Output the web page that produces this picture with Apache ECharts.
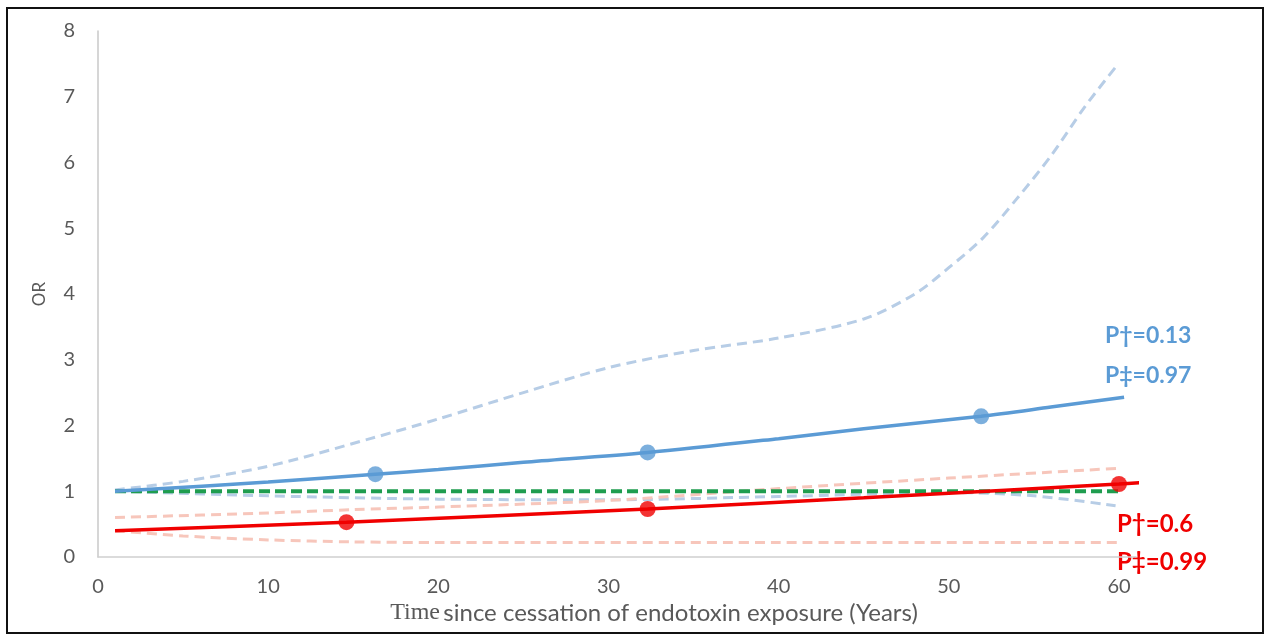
<!DOCTYPE html>
<html>
<head>
<meta charset="utf-8">
<script src="https://cdn.jsdelivr.net/npm/echarts@6/dist/echarts.min.js"></script>
<style>
html,body{margin:0;padding:0;background:#fff;}
#c{width:1266px;height:634px;}
</style>
</head>
<body>
<div id="c"></div>
<script>
// ---- data ----
var xTicks = [0, 10, 20, 30, 40, 50, 60];
var yTicks = [0, 1, 2, 3, 4, 5, 6, 7, 8];

var blueFitX = [1, 10, 16.3, 20, 25, 32.3, 40, 45, 51.9, 56, 60.3];
var blueFitY = [1.0, 1.14, 1.26, 1.33, 1.44, 1.59, 1.80, 1.95, 2.14, 2.28, 2.43];
var blueUpperX = [1, 5, 10, 16, 20, 25, 30, 35, 40, 45, 48, 50, 52, 54, 56, 58, 59.8];
var blueUpperY = [1.02, 1.15, 1.38, 1.8, 2.1, 2.5, 2.88, 3.14, 3.33, 3.62, 4.0, 4.4, 4.85, 5.45, 6.1, 6.85, 7.45];
var blueLowerX = [1, 10, 20, 30, 40, 50, 55, 59.8];
var blueLowerY = [1.0, 0.93, 0.88, 0.87, 0.92, 0.98, 0.93, 0.78];
var blueDotX = [16.3, 32.3, 51.9];
var blueDotY = [1.26, 1.59, 2.14];

var redFitX = [1, 14.6, 32.3, 45, 60, 61.2];
var redFitY = [0.40, 0.53, 0.73, 0.90, 1.11, 1.13];
var redUpperX = [1, 10, 15, 20, 30, 40, 50, 60];
var redUpperY = [0.60, 0.67, 0.72, 0.76, 0.86, 1.04, 1.20, 1.35];
var redLowerX = [1, 5, 10, 15, 20, 40, 60];
var redLowerY = [0.40, 0.32, 0.26, 0.23, 0.22, 0.22, 0.22];
var redDotX = [14.6, 32.3, 60];
var redDotY = [0.53, 0.73, 1.11];

var refX = [1, 60];
var refY = [1, 1];

var blueNotes = ["P\u2020=0.13", "P\u2021=0.97"];
var redNotes = ["P\u2020=0.6", "P\u2021=0.99"];

function pairs(xs, ys) { return xs.map(function (x, i) { return [x, ys[i]]; }); }

var BLUE = '#5b9bd5', BLUE_L = '#b7cde6', RED = '#f00000', RED_L = '#f7c6bb', GREEN = '#1f9d4f';
var GRAY = '#595959';

var chart = echarts.init(document.getElementById('c'));
chart.setOption({
  backgroundColor: '#fff',
  animation: false,
  grid: { left: 98, right: 130, top: 31, bottom: 77 },
  xAxis: {
    type: 'value', min: 0, max: 61, interval: 10,
    axisLine: { show: true, lineStyle: { color: '#d0d0d0', width: 1.5 } },
    axisTick: { show: false },
    splitLine: { show: false },
    axisLabel: { color: GRAY, fontSize: 20, fontFamily: 'Lato', margin: 20, showMaxLabel: false,
      formatter: function (v) { return xTicks.indexOf(v) >= 0 ? String(v) : ''; } }
  },
  yAxis: {
    type: 'value', min: 0, max: 8, interval: 1,
    name: 'OR', nameLocation: 'middle', nameGap: 50,
    nameTextStyle: { color: GRAY, fontSize: 17, fontFamily: 'Lato' },
    axisLine: { show: true, lineStyle: { color: '#c8c8c8', width: 1.5 } },
    axisTick: { show: false },
    splitLine: { show: false },
    axisLabel: { color: GRAY, fontSize: 20, fontFamily: 'Lato', margin: 23,
      formatter: function (v) { return yTicks.indexOf(v) >= 0 ? String(v) : ''; } }
  },
  series: [
    { type: 'line', data: pairs(blueUpperX, blueUpperY), smooth: 0.3, showSymbol: false,
      lineStyle: { color: BLUE_L, width: 3, type: [10, 6] }, z: 2 },
    { type: 'line', data: pairs(blueLowerX, blueLowerY), smooth: 0.3, showSymbol: false,
      lineStyle: { color: BLUE_L, width: 3, type: [10, 6] }, z: 2 },
    { type: 'line', data: pairs(redUpperX, redUpperY), smooth: 0.3, showSymbol: false,
      lineStyle: { color: RED_L, width: 3, type: [10, 6] }, z: 2 },
    { type: 'line', data: pairs(redLowerX, redLowerY), smooth: 0.3, showSymbol: false,
      lineStyle: { color: RED_L, width: 3, type: [10, 6] }, z: 2 },
    { type: 'line', data: pairs(refX, refY), showSymbol: false,
      lineStyle: { color: GREEN, width: 4, type: [11, 5] }, z: 3 },
    { type: 'line', data: pairs(blueFitX, blueFitY), smooth: 0.3, showSymbol: false,
      lineStyle: { color: BLUE, width: 3.5 }, z: 4 },
    { type: 'line', data: pairs(redFitX, redFitY), smooth: 0.3, showSymbol: false,
      lineStyle: { color: RED, width: 3.5 }, z: 4 },
    { type: 'scatter', data: pairs(blueDotX, blueDotY), symbolSize: 16,
      itemStyle: { color: BLUE }, z: 5 },
    { type: 'scatter', data: pairs(redDotX, redDotY), symbolSize: 16,
      itemStyle: { color: RED }, z: 5 }
  ],
  graphic: [
    { type: 'rect', shape: { x: 7, y: 8, width: 1256, height: 625 },
      style: { fill: 'none', stroke: '#111', lineWidth: 2 }, silent: true, z: 0 },
    { type: 'text', x: 654, y: 613,
      style: { text: '{a|Time} {b|since cessation of endotoxin exposure (Years)}',
        textAlign: 'center', textVerticalAlign: 'middle',
        rich: { a: { fontFamily: 'Liberation Serif', fontSize: 24, fill: GRAY, verticalAlign: 'middle' },
                b: { fontFamily: 'Lato', fontSize: 24, fill: GRAY, verticalAlign: 'middle' } } } },
    { type: 'text', x: 1105, y: 336,
      style: { text: blueNotes[0], fill: BLUE, fontSize: 23, fontWeight: 'bold', fontFamily: 'Lato', textVerticalAlign: 'middle' } },
    { type: 'text', x: 1105, y: 376,
      style: { text: blueNotes[1], fill: BLUE, fontSize: 23, fontWeight: 'bold', fontFamily: 'Lato', textVerticalAlign: 'middle' } },
    { type: 'text', x: 1117, y: 524,
      style: { text: redNotes[0], fill: RED, fontSize: 24, fontWeight: 'bold', fontFamily: 'Lato', textVerticalAlign: 'middle' } },
    { type: 'text', x: 1117, y: 562,
      style: { text: redNotes[1], fill: RED, fontSize: 24, fontWeight: 'bold', fontFamily: 'Lato', textVerticalAlign: 'middle' } }
  ]
});
</script>
</body>
</html>
